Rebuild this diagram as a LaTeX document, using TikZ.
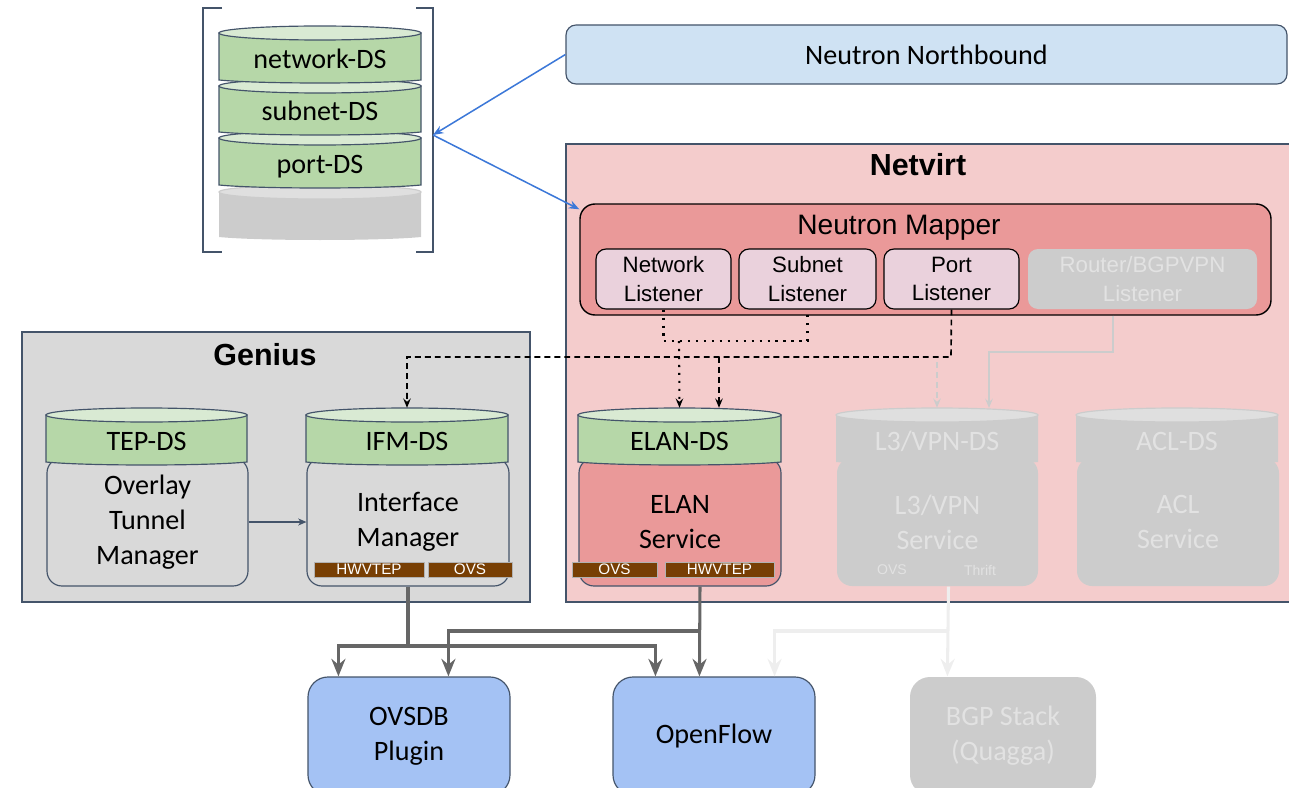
\documentclass[tikz,border=0pt]{standalone}
\usepackage{fontspec}
\setmainfont{Carlito}
\newfontfamily\arial{Liberation Sans}
\usetikzlibrary{arrows.meta,calc,fit}

\definecolor{edgeblue}{HTML}{44546A}
\definecolor{netvirtbg}{HTML}{F4CCCC}
\definecolor{mapperbg}{HTML}{EA9999}
\definecolor{listenerbg}{HTML}{EAD1DC}
\definecolor{geniusbg}{HTML}{D9D9D9}
\definecolor{dsgreen}{HTML}{B6D7A8}
\definecolor{dsgreentop}{HTML}{D9EAD3}
\definecolor{offgray}{HTML}{CCCCCC}
\definecolor{offgraytop}{HTML}{DFDFDF}
\definecolor{offtext}{HTML}{E2E2E2}
\definecolor{nbblue}{HTML}{CFE2F3}
\definecolor{southblue}{HTML}{A4C2F4}
\definecolor{linkblue}{HTML}{3C78D8}
\definecolor{badgebrown}{HTML}{783F04}
\definecolor{busgray}{HTML}{666666}
\definecolor{busfaint}{HTML}{EEEEEE}

% side band and lid of a datastore drum
\newcommand\dsband[6]{%
  \filldraw[#5] (#1,#3) -- (#1,#4) .. controls +(40,4) and +(-40,4) .. (#2,#4) -- (#2,#3) -- cycle;
  \filldraw[#6] ({(#1+#2)/2},#3) ellipse [x radius={(#2-#1)*0.015cm}, y radius=0.21cm];
}

\tikzset{
  boxsize/.style 2 args={minimum width={#1*0.03cm}, minimum height={#2*0.03cm}},
  panel/.style={draw=edgeblue, line width=1pt, inner sep=0pt},
  paneltitle/.style={font=\arial\bfseries\fontsize{26}{30}\selectfont},
  roundbox/.style={draw=edgeblue, line width=1pt, rounded corners=0.45cm, inner sep=0pt, align=center, font=\fontsize{24}{30}\selectfont},
  offbox/.style={roundbox, draw=none, fill=offgray, text=offtext},
  listener/.style={draw=black, line width=1pt, fill=listenerbg, rounded corners=0.3cm, inner sep=0pt, align=center, font=\arial\fontsize{19}{24}\selectfont},
  dslabel/.style={inner sep=0pt, text height=27pt, text depth=1pt, font=\fontsize{24}{30}\selectfont},
  greenside/.style={fill=dsgreen, draw=edgeblue, line width=1pt},
  greenlid/.style={fill=dsgreentop, draw=edgeblue, line width=1pt},
  offside/.style={fill=offgray, draw=none},
  offlid/.style={fill=offgraytop, draw=offgray, line width=1pt},
  badge/.style={fill=badgebrown, draw=gray!60, line width=0.8pt, inner sep=0pt, text=white, font=\arial\fontsize{13}{13}\selectfont},
  northlink/.style={draw=linkblue, line width=1.3pt, -{Stealth[length=9pt,width=7pt]}},
  flowdash/.style={line width=1.4pt, dash pattern=on 5pt off 3.5pt, -{Stealth[length=8pt,width=6.5pt,inset=3pt]}},
  flowdot/.style={line width=1.8pt, dash pattern=on 1.8pt off 5pt},
  offflow/.style={draw=offgray, line width=1.4pt, -{Stealth[length=8pt,width=6.5pt,inset=3pt]}},
  bus/.style={draw=busgray, line width=2.6pt, -{Stealth[length=15pt,width=12pt,inset=5pt]}},
  offbus/.style={bus, draw=busfaint},
  tunnellink/.style={draw=edgeblue, line width=1pt, -{Stealth[length=7pt,width=6pt,inset=2pt]}},
}

\begin{document}
\begin{tikzpicture}[x=0.03cm, y=-0.03cm]
\useasboundingbox (0,0) rectangle (1289,788);
\clip (0,0) rectangle (1289,788);

% panels
\node[panel, fill=geniusbg, fit={(22,332) (530,602)}] (genius) {};
\node[paneltitle] (geniustitle) at (265,355) {Genius};
\node[panel, fill=netvirtbg, fit={(566,144) (1300,602)}] (netvirt) {};
\node[paneltitle] (netvirttitle) at (918,165) {Netvirt};
\node[roundbox, fill=nbblue, rounded corners=0.3cm, boxsize={721}{59}] (nnb) at (926.5,54.5) {Neutron Northbound};

% neutron datastores
\draw[edgeblue, line width=1.2pt] (222,8) -- (203,8) -- (203,252) -- (222,252);
\draw[edgeblue, line width=1.2pt] (416,8) -- (433,8) -- (433,252) -- (416,252);
\dsband{219}{421}{192}{237}{offside}{offlid}
\dsband{219}{421}{138}{185}{greenside}{greenlid}
\dsband{219}{421}{86}{132}{greenside}{greenlid}
\dsband{219}{421}{33}{80}{greenside}{greenlid}
\node[dslabel, boxsize={202}{54}] (networkds) at (320,53) {network-DS};
\node[dslabel, boxsize={202}{53}] (subnetds) at (320,105.5) {subnet-DS};
\node[dslabel, boxsize={202}{54}] (portds) at (320,158) {port-DS};
\coordinate (stack) at (433,135);

% neutron mapper
\node[draw=black, line width=1.2pt, fill=mapperbg, rounded corners=0.45cm, inner sep=0pt, fit={(580,204) (1271,315)}] (mapper) {};
\node[font=\arial\fontsize{24}{28}\selectfont] (mappertitle) at (899,228) {Neutron Mapper};
\node[listener, boxsize={135}{60}] (netl) at (663.5,279) {Network\\Listener};
\node[listener, boxsize={137}{60}] (subl) at (807.5,279) {Subnet\\Listener};
\node[listener, boxsize={135}{60}] (portl) at (951.5,279) {Port\\Listener};
\node[listener, draw=none, fill=offgray, text=offtext, boxsize={229}{60}] (rtl) at (1142.5,279) {Router/BGPVPN\\Listener};

% genius services
\node[roundbox, fill=geniusbg, boxsize={201}{128}] (tunnel) at (147.5,522) {Overlay\\Tunnel\\Manager};
\dsband{46}{247}{415}{462}{greenside}{greenlid}
\node[dslabel, boxsize={201}{54}] (tepds) at (146.5,435) {TEP-DS};
\node[roundbox, fill=geniusbg, boxsize={202}{128}] (ifm) at (408,522) {Interface\\Manager};
\dsband{306}{508}{415}{462}{greenside}{greenlid}
\node[dslabel, boxsize={202}{54}] (ifmds) at (407,435) {IFM-DS};
\node[badge, boxsize={110}{15}] (ifmhw) at (369,569.5) {HWVTEP};
\node[badge, boxsize={84}{15}] (ifmovs) at (470,569.5) {OVS};

% netvirt services
\node[roundbox, fill=mapperbg, boxsize={202}{128}] (elan) at (680,522) {ELAN\\Service};
\dsband{578}{781}{415}{462}{greenside}{greenlid}
\node[dslabel, boxsize={203}{54}] (elands) at (679.5,435) {ELAN-DS};
\node[badge, boxsize={85}{15}] (elanovs) at (614.5,569.5) {OVS};
\node[badge, boxsize={109}{15}] (elanhw) at (719.5,569.5) {HWVTEP};

\node[offbox, boxsize={201}{128}] (l3) at (937.5,522) {L3/VPN\\Service};
\dsband{836}{1038}{415}{462}{offside}{offlid}
\node[dslabel, text=offtext, boxsize={202}{54}] (l3ds) at (937,435) {L3/VPN-DS};
\node[font=\arial\fontsize{12}{12}\selectfont, text=offtext] (l3ovs) at (892,570) {OVS};
\node[font=\arial\fontsize{12}{12}\selectfont, text=offtext] (l3thrift) at (980,570) {Thrift};

\node[offbox, boxsize={202}{128}] (acl) at (1178,522) {ACL\\Service};
\dsband{1076}{1278}{415}{462}{offside}{offlid}
\node[dslabel, text=offtext, boxsize={202}{54}] (aclds) at (1177,435) {ACL-DS};

% southbound
\node[roundbox, fill=southblue, rounded corners=0.6cm, boxsize={202}{118}] (ovsdb) at (409,736) {OVSDB\\Plugin};
\node[roundbox, fill=southblue, rounded corners=0.6cm, boxsize={202}{118}] (openflow) at (714,736) {OpenFlow};
\node[offbox, rounded corners=0.6cm, boxsize={186}{118}] (bgp) at (1003,736) {BGP Stack\\(Quagga)};

% neutron links
\draw[northlink] (nnb.west) -- (stack);
\draw[northlink] (stack) -- ($(mapper.north west)+(0,6)$);

% listener links
\coordinate (dotbar) at (679,341);
\draw[flowdot] (netl.south) |- (dotbar) -| (subl.south);
\draw[flowdot, -{Stealth[length=8pt,width=6.5pt,inset=3pt]}] (dotbar) -- (elands.north);
\coordinate (dashbar) at (951,357);
\draw[flowdash] (portl.south) -- (dashbar) -| (ifmds.north);
\coordinate (elanin) at (719,357);
\draw[flowdash] (elanin) -- (elanin |- elands.north);
\coordinate (l3in) at (937,362);
\draw[offflow, dash pattern=on 5pt off 3.5pt] (l3in) -- (l3ds.north);
\coordinate (rtbend) at (1113,352);
\coordinate (l3top) at (989,408);
\draw[offflow] (rtbend |- mapper.south) -- (rtbend) -| (l3top);

\draw[tunnellink] (tunnel.east) -- (ifm.west |- tunnel.east);

% southbound links
\coordinate (ifmfork) at (ifm.south |- 0,646);
\draw[bus] (ifm.south) -- (ifmfork) -| ($(ovsdb.north west)+(31,0)$);
\draw[bus] (ifmfork) -| ($(openflow.north west)+(43,0)$);
\coordinate (elanfork) at (700,631);
\draw[bus] ($(elan.south)+(20,0)$) -- ($(openflow.north west)+(87,0)$);
\draw[bus] (elanfork) -| ($(ovsdb.north west)+(141,0)$);
\coordinate (l3fork) at (948,631);
\draw[offbus] ($(l3.south)+(11,0)$) -- ($(bgp.north west)+(38,0)$);
\draw[offbus] (l3fork) -| ($(openflow.north east)+(-41,0)$);
\end{tikzpicture}
\end{document}
